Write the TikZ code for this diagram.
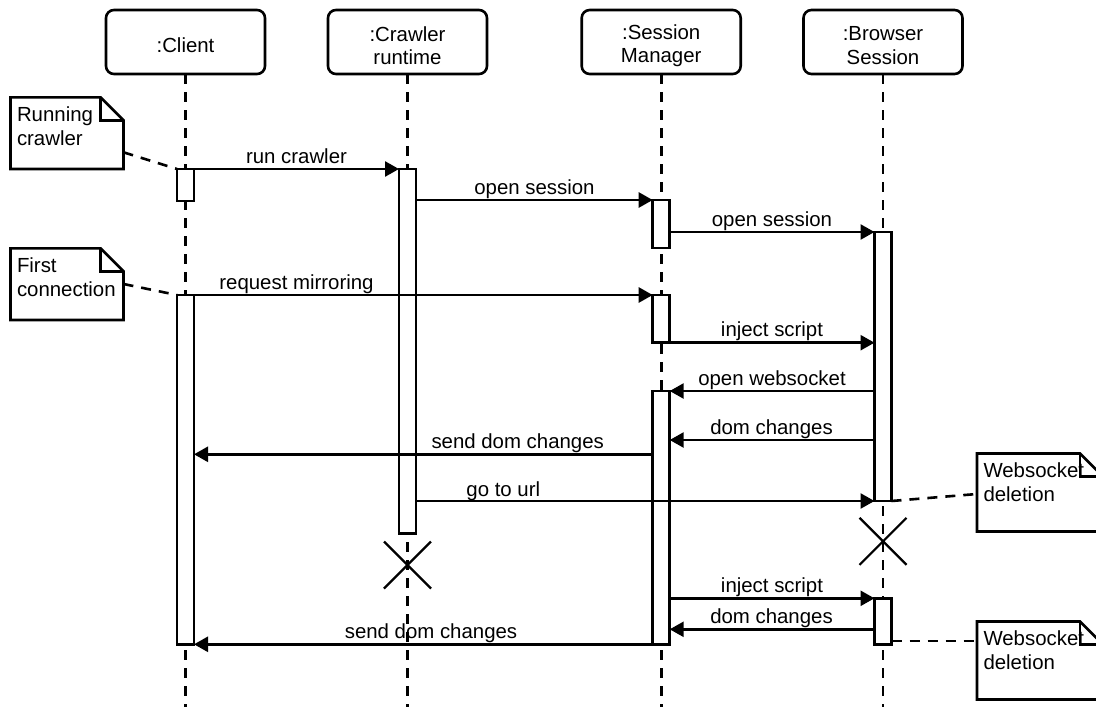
\documentclass[tikz,border=0pt]{standalone}
\usepackage{fontspec}
\setmainfont{Liberation Sans}
\usetikzlibrary{arrows.meta,shapes.misc}

\tikzset{
  every node/.style={font=\fontsize{20.4pt}{23.3pt}\selectfont, inner sep=0pt, outer sep=0pt},
  head/.style={draw, fill=white, line width=2.6pt, rounded corners=8pt,
               minimum width=159pt, minimum height=64pt},
  headtext/.style={align=center, yshift=-3.5pt},
  lifeline/.style={line width=2.6pt, dash pattern=on 10pt off 8pt},
  act/.style={draw, fill=white, line width=2.6pt, minimum width=17pt},
  msg/.style={line width=2.6pt, -{Triangle[length=14pt,width=15pt]}},
  msglabel/.style={anchor=base},
  destroy/.style={cross out, draw, line width=2.2pt, minimum size=47pt},
  notebody/.style={draw, fill=white, line width=2.6pt, line join=miter},
  notetext/.style={align=left, anchor=north west},
  noteline/.style={line width=2.6pt, dash pattern=on 10pt off 8pt},
}

% UML note with a folded corner: name, left, top, width, height, text
\newcommand\umlnote[6]{%
  \draw[notebody] (#2,#3) -- (#2+#4-23,#3) -- (#2+#4,#3+23) -- (#2+#4,#3+#5) -- (#2,#3+#5) -- cycle;
  \draw[notebody, fill=none] (#2+#4-23,#3) -- (#2+#4-23,#3+23) -- (#2+#4,#3+23);
  \node[notetext] (#1) at (#2+6.5,#3+9.7) {#6};
}

\begin{document}
\begin{tikzpicture}[x=1pt,y=-1pt]
  \useasboundingbox (0,0) rectangle (1096,707);
  \fill[white] (0,0) rectangle (1096,707);
  \clip (0,0) rectangle (1096,707);

  % participants
  \node[head, label={[headtext]center:{:Client}}] (client) at (185.5,42) {};
  \node[head, label={[headtext]center:{:Crawler\\runtime}}] (crawler) at (407.5,42) {};
  \node[head, label={[headtext]center:{:Session\\Manager}}] (manager) at (661.2,42) {};
  \node[head, label={[headtext]center:{:Browser\\Session}}] (browser) at (883,42) {};

  % lifelines
  \coordinate (floor) at (0,707);
  \draw[lifeline] (client.south) -- (client.south |- floor);
  \draw[lifeline] (crawler.south) -- (crawler.south |- floor);
  \draw[lifeline] (manager.south) -- (manager.south |- floor);
  \draw[lifeline] (browser.south) -- (browser.south |- floor);

  % activations
  \node[act, minimum height=32pt]    (c1) at (185.5,185) {};
  \node[act, minimum height=349.3pt] (c2) at (185.5,469.65) {};
  \node[act, minimum height=364.3pt] (r1) at (407.5,351.15) {};
  \node[act, minimum height=48pt]    (s1) at (661.2,224) {};
  \node[act, minimum height=47.7pt]  (s2) at (661.2,318.85) {};
  \node[act, minimum height=253.3pt] (s3) at (661.2,517.65) {};
  \node[act, minimum height=269pt]   (b1) at (883,366.5) {};
  \node[act, minimum height=46pt]    (b2) at (883,621.3) {};

  % destruction marks
  \node[destroy] (rx) at (407.5,565) {};
  \node[destroy] (bx) at (883,541.3) {};

  % messages
  \coordinate (y7) at (0,440);
  \coordinate (y8) at (0,454.3);
  \coordinate (y11) at (0,629.3);
  \draw[msg] (c1.north east) -- (r1.north west);
  \draw[msg] (r1.east |- s1.north) -- (s1.north west);
  \draw[msg] (s1.east |- b1.north) -- (b1.north west);
  \draw[msg] (c2.north east) -- (s2.north west);
  \draw[msg] (s2.south east) -- (b1.west |- s2.south);
  \draw[msg] (b1.west |- s3.north) -- (s3.north east);
  \draw[msg] (b1.west |- y7) -- (s3.east |- y7);
  \draw[msg] (s3.west |- y8) -- (c2.east |- y8);
  \draw[msg] (r1.east |- b1.south) -- (b1.south west);
  \draw[msg] (s3.east |- b2.north) -- (b2.north west);
  \draw[msg] (b2.west |- y11) -- (s3.east |- y11);
  \draw[msg] (s3.south west) -- (c2.south east);

  % message labels
  \node[msglabel] (l1)  at (296.5,163)   {run crawler};
  \node[msglabel] (l2)  at (534.5,194)   {open session};
  \node[msglabel] (l3)  at (772,226)     {open session};
  \node[msglabel] (l4)  at (296.5,289)   {request mirroring};
  \node[msglabel] (l5)  at (772,336.7)   {inject script};
  \node[msglabel] (l6)  at (772,385)     {open websocket};
  \node[msglabel] (l7)  at (771.5,434)   {dom changes};
  \node[msglabel] (l8)  at (517.7,448.3) {send dom changes};
  \node[msglabel] (l9)  at (503.3,496)   {go to url};
  \node[msglabel] (l10) at (772,592.3)   {inject script};
  \node[msglabel] (l11) at (771.5,623.3) {dom changes};
  \node[msglabel] (l12) at (431,638.3)   {send dom changes};

  % note connectors
  \coordinate (n1port) at (123.5,152.3);
  \coordinate (n2port) at (123.5,284);
  \coordinate (n3port) at (977,494);
  \coordinate (n4port) at (977,641);
  \draw[noteline] (n1port) -- (c1.north west);
  \draw[noteline] (n2port) -- (c2.north west);
  \draw[noteline] (b1.south east) -- (n3port);
  \draw[noteline] (b2.east |- n4port) -- (n4port);

  % notes
  \umlnote{n1}{10.5}{97.3}{113}{71.7}{Running\\crawler}
  \umlnote{n2}{10.5}{248.3}{113}{71.7}{First\\connection}
  \umlnote{n3}{977}{453.5}{126}{78}{Websocket\\deletion}
  \umlnote{n4}{977}{621.5}{126}{78}{Websocket\\deletion}
\end{tikzpicture}
\end{document}
